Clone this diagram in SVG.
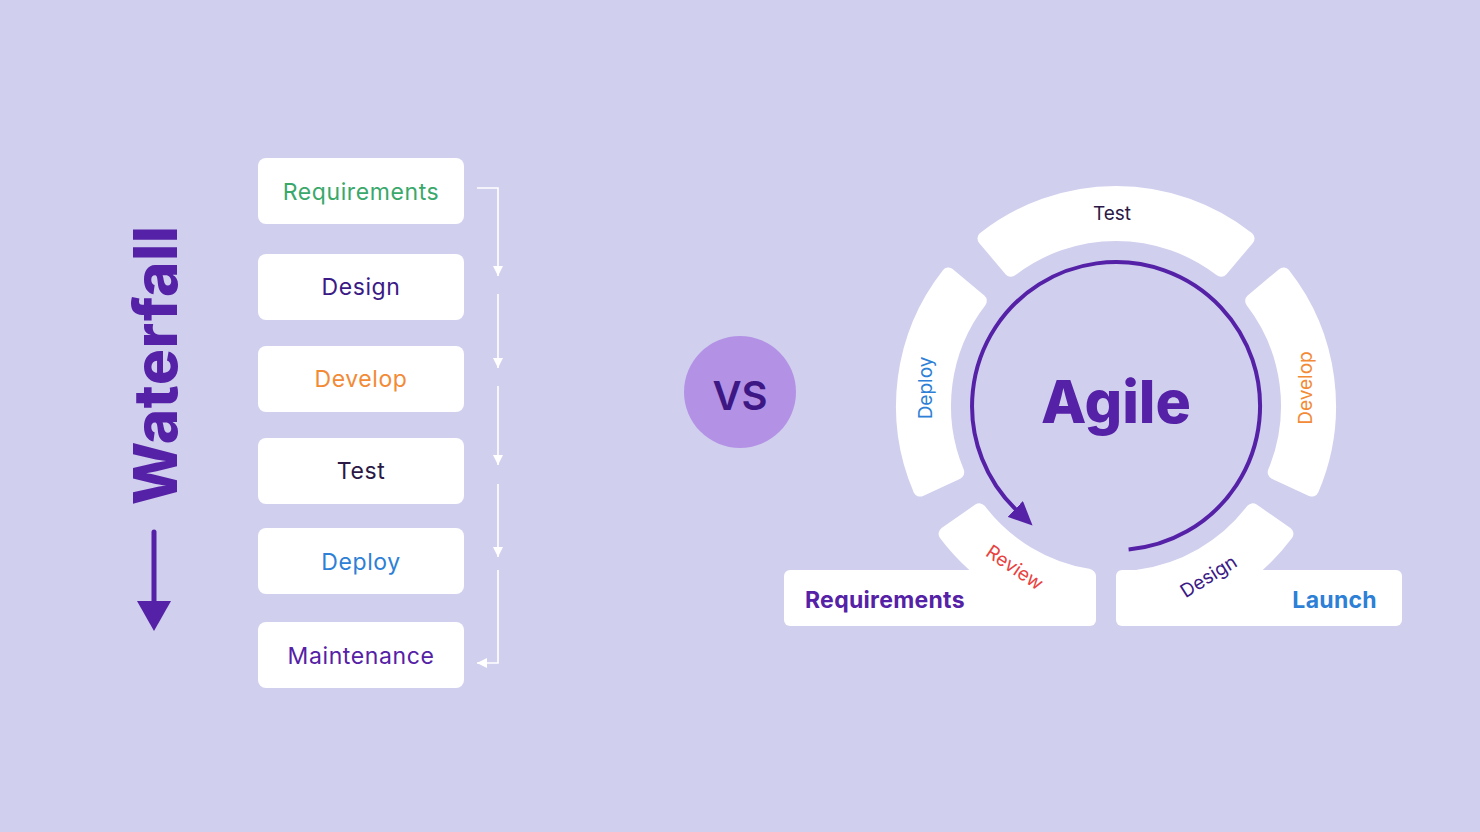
<svg xmlns="http://www.w3.org/2000/svg" width="1480" height="832" viewBox="0 0 1480 832">
<defs>
<style>
.bg{fill:#d0cfee}
.box{fill:#ffffff}
.lbl{font-family:Inter,"Liberation Sans",sans-serif;font-size:23px;letter-spacing:0.6px;text-anchor:middle}
.seg{fill:#ffffff;stroke:#ffffff;stroke-width:14;stroke-linejoin:round}
.sl{font-family:Inter,"Liberation Sans",sans-serif;font-size:19px;text-anchor:middle}
.big{font-family:Inter,"Liberation Sans",sans-serif;font-weight:800;fill:#5521a6}
.wl{fill:none;stroke:#ffffff;stroke-width:1.6}
.bl{font-family:Inter,"Liberation Sans",sans-serif;font-size:23px;font-weight:700;letter-spacing:0.3px}
</style>
<marker id="wa" viewBox="0 0 10 10" refX="10" refY="5" markerWidth="10" markerHeight="10" markerUnits="userSpaceOnUse" orient="auto">
<path d="M0,0 L10,5 L0,10 z" fill="#ffffff"/>
</marker>
<marker id="pa" viewBox="0 0 24 22" refX="1" refY="11" markerWidth="24" markerHeight="22" markerUnits="userSpaceOnUse" orient="auto">
<path d="M0,0 L24,11 L0,22 z" fill="#5521a6"/>
</marker>
</defs>
<rect class="bg" x="0" y="0" width="1480" height="832"/>

<g id="waterfall-title">
<text class="big" transform="translate(177,365.5) rotate(-90)" text-anchor="middle" font-size="60" textLength="279" lengthAdjust="spacing">Waterfall</text>
<line x1="154" y1="532" x2="154" y2="604" stroke="#5521a6" stroke-width="5" stroke-linecap="round"/>
<polygon points="137,601 171,601 154,631" fill="#5521a6"/>
</g>

<g id="wf-requirements"><rect class="box" x="258" y="158" width="206" height="66" rx="8"/><text class="lbl" x="361" y="200" fill="#3aa86b">Requirements</text></g>
<g id="wf-design"><rect class="box" x="258" y="254" width="206" height="66" rx="8"/><text class="lbl" x="361" y="295" fill="#3b1a86">Design</text></g>
<g id="wf-develop"><rect class="box" x="258" y="346" width="206" height="66" rx="8"/><text class="lbl" x="361" y="387" fill="#f28a36">Develop</text></g>
<g id="wf-test"><rect class="box" x="258" y="438" width="206" height="66" rx="8"/><text class="lbl" x="361" y="479" fill="#2b1845">Test</text></g>
<g id="wf-deploy"><rect class="box" x="258" y="528" width="206" height="66" rx="8"/><text class="lbl" x="361" y="570" fill="#2e7fd6">Deploy</text></g>
<g id="wf-maintenance"><rect class="box" x="258" y="622" width="206" height="66" rx="8"/><text class="lbl" x="361" y="664" fill="#5521a6">Maintenance</text></g>

<g id="connectors">
<path class="wl" d="M477,188 H498 V276" marker-end="url(#wa)"/>
<path class="wl" d="M498,294 V368" marker-end="url(#wa)"/>
<path class="wl" d="M498,386 V465" marker-end="url(#wa)"/>
<path class="wl" d="M498,484 V557" marker-end="url(#wa)"/>
<path class="wl" d="M498,570 V663 H477" marker-end="url(#wa)"/>
</g>

<g id="vs">
<circle cx="740" cy="392" r="56" fill="#b392e6"/>
<text x="740" y="410" font-family="Inter,'Liberation Sans',sans-serif" font-size="40" font-weight="600" fill="#3d1784" text-anchor="middle">VS</text>
</g>

<g id="agile-ring">
<path id="seg-test" class="seg" d="M984.5,238.4 A213,213 0 0 1 1247.5,238.4 L1221.1,269.8 A172,172 0 0 0 1010.9,269.8 Z"/>
<path id="seg-develop" class="seg" d="M1283.6,274.5 A213,213 0 0 1 1311.9,489.6 L1274.7,472.3 A172,172 0 0 0 1252.2,300.9 Z"/>
<path id="seg-design" class="seg" d="M1286.4,533.8 A213,213 0 0 1 1141.5,617.5 L1137.9,576.6 A172,172 0 0 0 1252.7,510.3 Z"/>
<path id="seg-review" class="seg" d="M1083.1,616.4 A213,213 0 0 1 945.6,533.8 L979.3,510.3 A172,172 0 0 0 1088.1,575.7 Z"/>
<path id="seg-deploy" class="seg" d="M920.1,489.6 A213,213 0 0 1 948.4,274.5 L979.8,300.9 A172,172 0 0 0 957.3,472.3 Z"/>
</g>

<g id="agile-cycle">
<path d="M1128.6,549.5 A144,144 0 1 0 1016.0,509.6" fill="none" stroke="#5521a6" stroke-width="4" marker-end="url(#pa)"/>
<text class="big" x="1116" y="423" font-size="59" text-anchor="middle">Agile</text>
</g>

<g id="ag-requirements"><rect class="box" x="784" y="570" width="312" height="56" rx="6"/><text class="bl" x="805" y="608" fill="#5521a6">Requirements</text></g>
<g id="ag-launch"><rect class="box" x="1116" y="570" width="286" height="56" rx="6"/><text class="bl" x="1377" y="608" fill="#2e7fd6" text-anchor="end">Launch</text></g>

<g id="ring-labels">
<text class="sl" x="1112" y="220" fill="#2b1845">Test</text>
<text class="sl" transform="translate(932,388) rotate(-90)" fill="#2e7fd6">Deploy</text>
<text class="sl" transform="translate(1312,388) rotate(-90)" fill="#f28a36">Develop</text>
<text class="sl" transform="translate(1011,573) rotate(34)" fill="#e8433f">Review</text>
<text class="sl" transform="translate(1212,582) rotate(-32)" fill="#3b1a86">Design</text>
</g>
</svg>
